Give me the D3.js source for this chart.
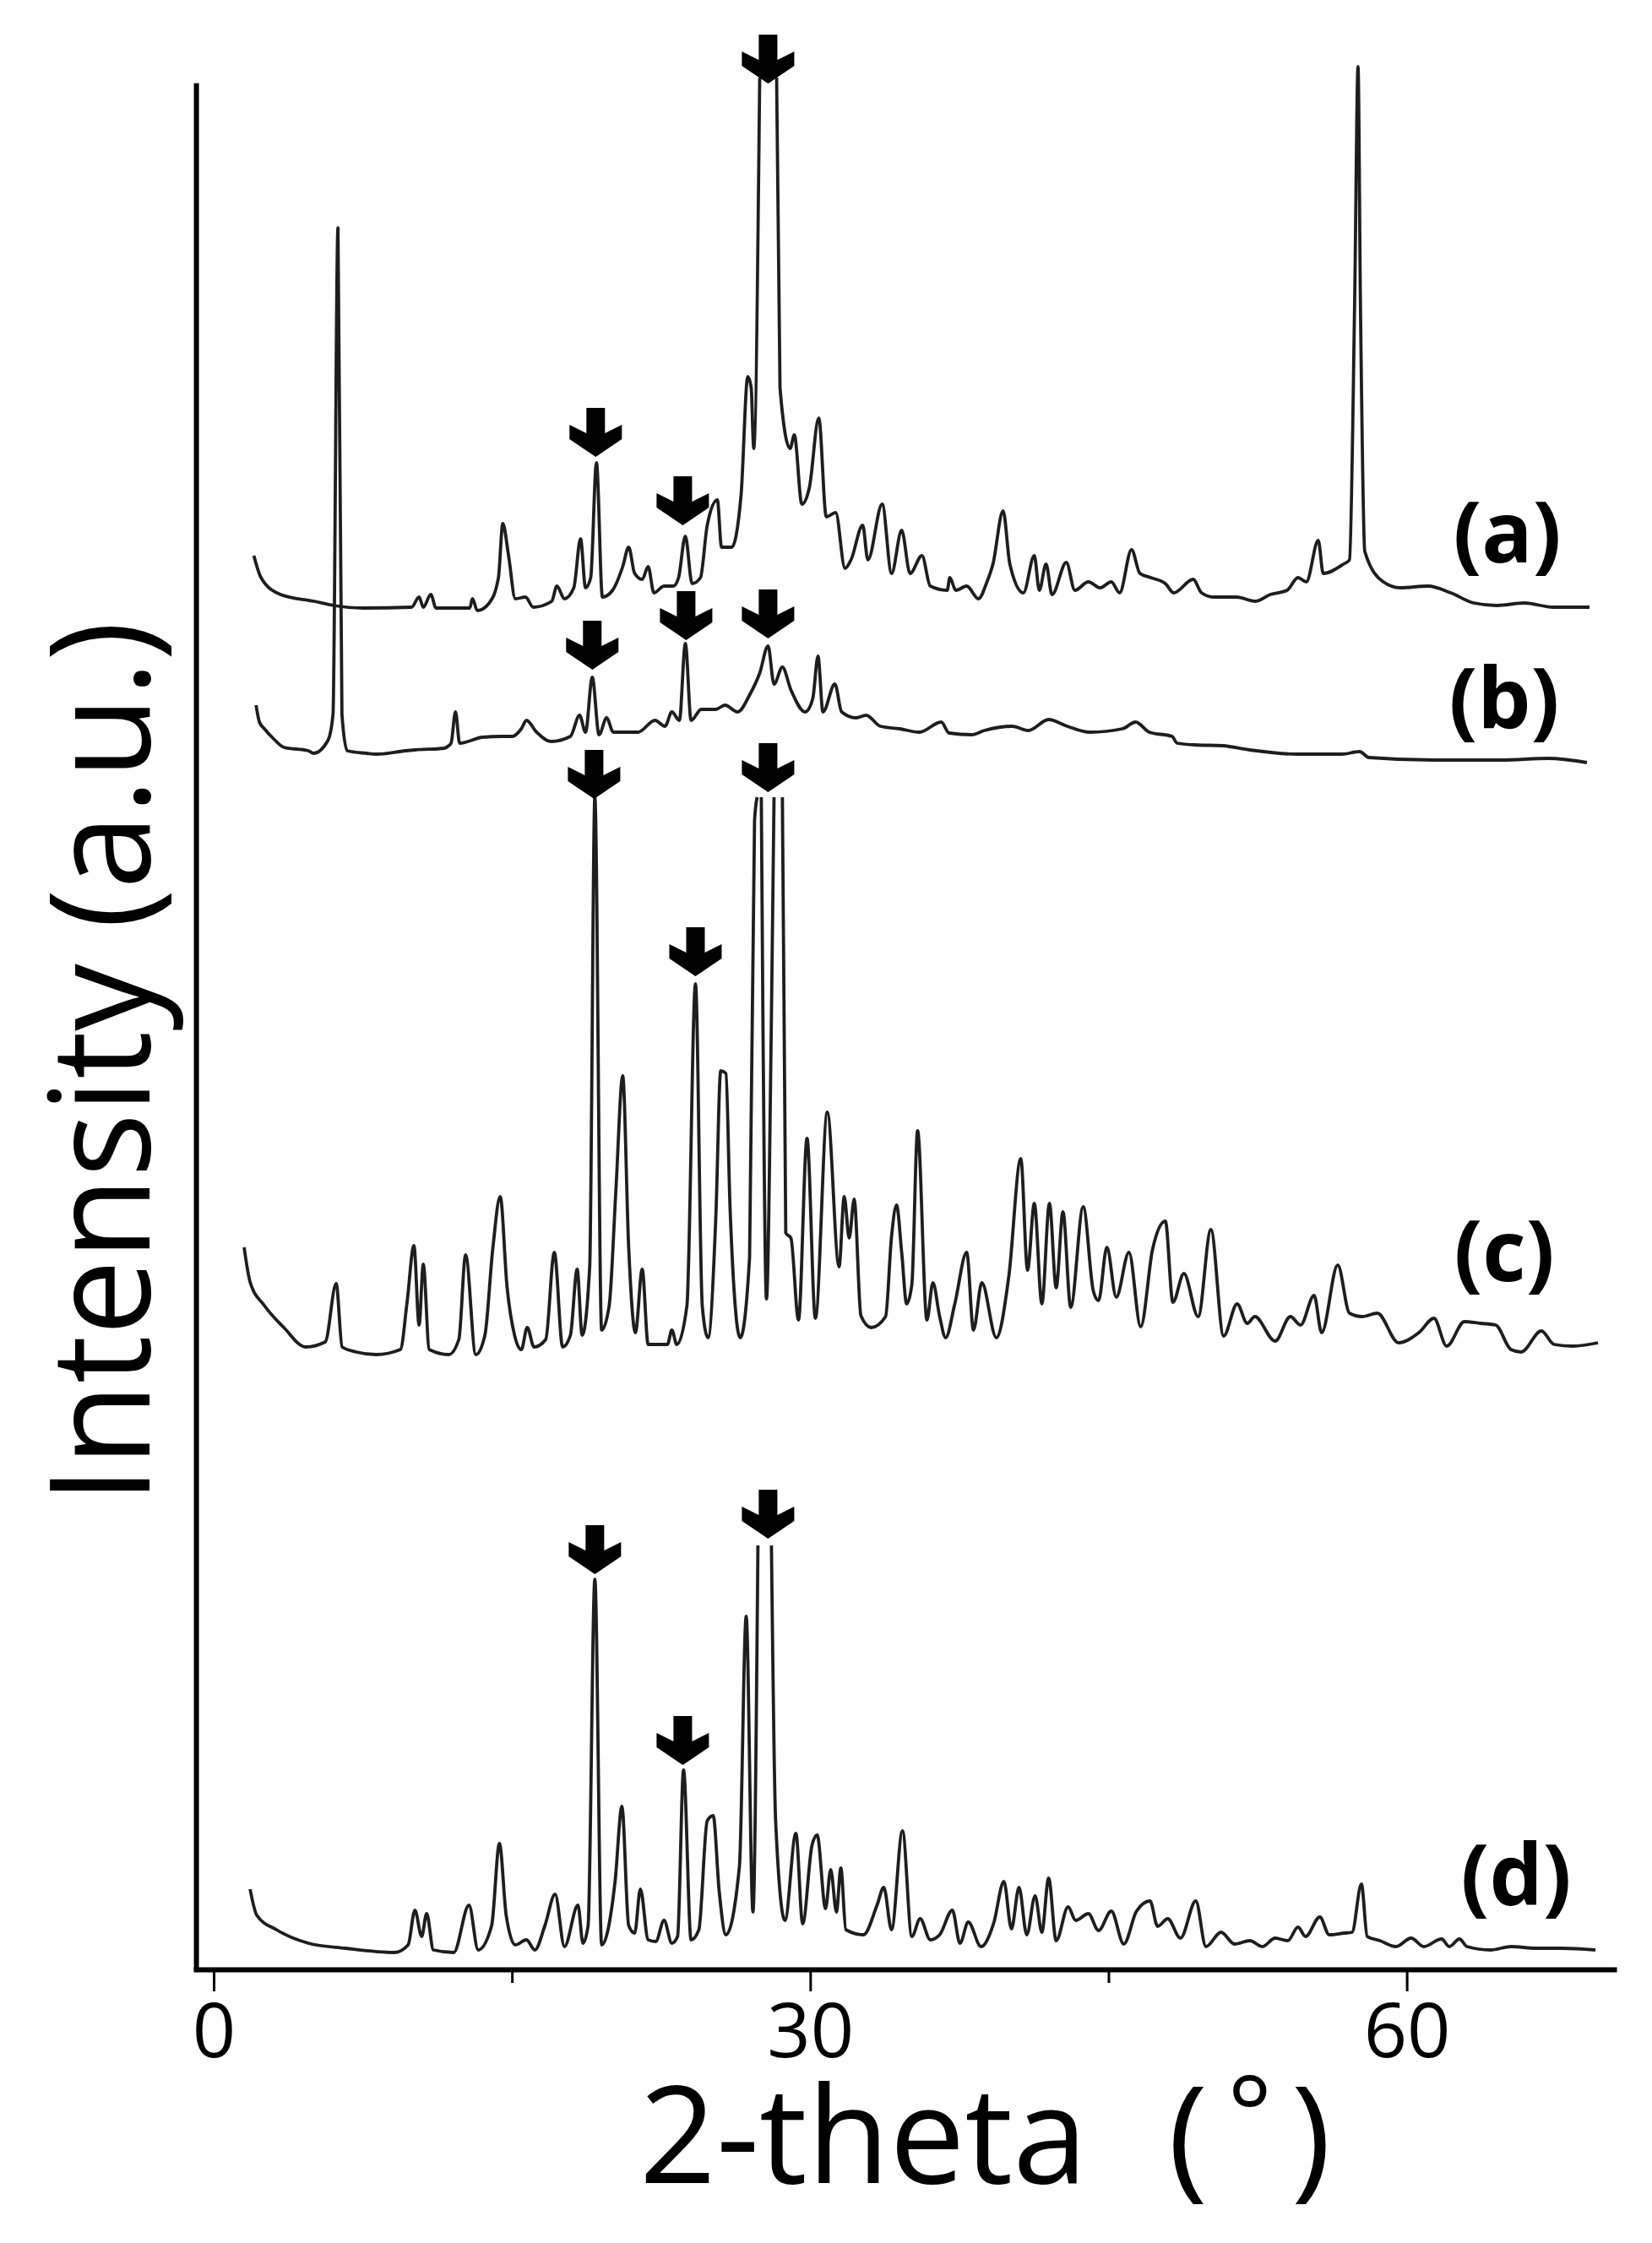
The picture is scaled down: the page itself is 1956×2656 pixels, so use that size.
<!DOCTYPE html>
<html>
<head>
<meta charset="utf-8">
<script src="https://cdn.jsdelivr.net/npm/d3@7"></script>
<style>
  body { margin: 0; background: #fff; }
  svg { display: block; }
</style>
</head>
<body>
<div id="chart"></div>
<script>
// x ticks of the 2-theta axis
const xTicks = [0, 15, 30, 45, 60];
const xLabelled = [0, 30, 60];

// stacked XRD patterns, [2-theta (deg), intensity (a.u.)]; null = peak cut off at the top
const traceA = [[2.02,1674],[2.38,1648],[3.36,1628],[5.06,1620],[6.04,1615],[7.52,1612],[9.95,1613],[10.33,1625],[10.54,1613],[10.92,1628],[11.18,1612],[12.88,1612],[13.01,1623],[13.26,1609],[13.86,1618],[14.32,1648],[14.54,1712],[14.83,1674],[15.17,1623],[15.68,1625],[16.07,1613],[17.00,1620],[17.26,1638],[17.64,1623],[18.11,1636],[18.45,1694],[18.70,1636],[18.96,1648],[19.25,1784],[19.55,1625],[20.06,1633],[20.57,1661],[20.87,1684],[21.17,1653],[21.55,1646],[21.85,1661],[22.14,1630],[22.65,1638],[23.12,1638],[23.38,1648],[23.72,1697],[24.06,1641],[24.48,1648],[24.82,1710],[25.33,1740],[25.54,1684],[26.05,1684],[26.52,1745],[26.86,1886],[27.03,1873],[27.16,1801],[27.46,2240],[27.9,null],[28.31,2240],[28.48,1873],[28.99,1801],[29.20,1817],[29.58,1735],[29.96,1755],[30.43,1837],[30.81,1720],[31.28,1725],[31.75,1659],[32.05,1669],[32.64,1710],[32.90,1669],[33.62,1735],[34.09,1653],[34.60,1704],[35.02,1653],[35.62,1674],[36.04,1638],[36.89,1633],[37.02,1648],[37.32,1633],[37.87,1638],[38.46,1623],[38.89,1643],[39.19,1664],[39.70,1727],[40.04,1664],[40.72,1630],[41.27,1674],[41.52,1633],[41.86,1664],[42.16,1628],[42.88,1666],[43.31,1633],[43.99,1643],[44.58,1636],[45.14,1643],[45.56,1630],[46.16,1681],[46.58,1653],[47.13,1648],[47.86,1641],[48.28,1630],[49.26,1646],[49.68,1630],[50.28,1625],[51.43,1625],[52.40,1620],[53.13,1628],[53.98,1633],[54.53,1648],[54.95,1643],[55.55,1692],[55.80,1653],[56.82,1664],[57.12,1669],[57.38,1975],[57.55,2253],[57.67,1975],[57.89,1679],[58.82,1643],[59.67,1636],[61.07,1638],[62.22,1630],[63.37,1618],[64.52,1615],[65.92,1618],[67.36,1613],[69.19,1613]];

const traceB = [[2.13,1497],[2.30,1477],[2.55,1469],[3.02,1457],[3.53,1447],[4.76,1443],[5.02,1440],[5.74,1455],[6.00,1486],[6.25,2062],[6.45,1486],[6.72,1443],[7.69,1440],[8.16,1439],[9.65,1443],[10.12,1444],[11.60,1446],[11.82,1449],[11.94,1452],[12.16,1489],[12.37,1452],[13.52,1459],[14.49,1460],[15.00,1460],[15.47,1469],[15.73,1479],[16.24,1465],[16.96,1454],[17.94,1460],[18.40,1485],[18.70,1465],[19.04,1530],[19.38,1462],[19.76,1482],[20.10,1465],[21.34,1465],[22.19,1479],[22.70,1472],[23.04,1489],[23.42,1479],[23.72,1570],[24.01,1479],[24.52,1492],[25.25,1492],[25.71,1497],[26.35,1489],[26.95,1509],[27.46,1535],[27.88,1567],[28.18,1522],[28.60,1542],[29.03,1515],[29.75,1489],[30.13,1505],[30.39,1555],[30.64,1489],[31.24,1522],[31.58,1489],[32.30,1482],[32.81,1485],[33.53,1472],[34.51,1469],[35.49,1465],[36.59,1477],[36.98,1464],[38.12,1462],[38.76,1467],[40.16,1472],[40.97,1467],[41.99,1480],[42.93,1472],[44.07,1465],[45.69,1469],[46.37,1477],[47.05,1465],[48.20,1460],[48.45,1452],[49.34,1450],[50.74,1449],[52.11,1444],[54.44,1439],[56.74,1439],[57.63,1442],[58.10,1435],[61.33,1432],[64.77,1432],[67.11,1434],[69.06,1429]];

const traceC = [[1.53,855],[1.83,814],[2.55,786],[3.53,760],[4.63,737],[5.61,743],[6.16,812],[6.46,737],[7.18,731],[8.16,728],[9.39,734],[9.73,791],[10.07,857],[10.33,763],[10.54,835],[10.84,734],[11.82,728],[12.33,746],[12.67,846],[13.18,728],[13.64,751],[14.03,852],[14.41,915],[14.75,809],[15.13,751],[15.47,734],[15.77,760],[16.11,737],[16.70,746],[17.13,849],[17.55,737],[17.94,751],[18.28,829],[18.53,751],[18.91,832],[19.17,1388],[19.51,757],[19.89,786],[20.23,924],[20.57,1058],[20.87,855],[21.21,754],[21.55,829],[21.85,740],[22.82,740],[23.04,757],[23.29,740],[23.80,786],[24.23,1167],[24.57,786],[24.86,748],[25.25,889],[25.50,1064],[25.76,1061],[25.97,901],[26.48,748],[26.95,843],[27.20,1360],[27.33,1388],[27.45,null],[27.54,1388],[27.62,1130],[27.80,794],[28.05,1130],[28.18,1388],[28.4,null],[28.60,1388],[28.77,872],[29.03,866],[29.41,769],[29.84,984],[30.26,771],[30.86,1015],[31.45,832],[31.71,915],[31.96,866],[32.21,912],[32.55,774],[33.07,760],[33.79,773],[34.09,868],[34.34,905],[34.60,849],[34.85,788],[35.11,811],[35.40,993],[35.87,769],[36.17,813],[36.51,773],[36.81,748],[37.27,788],[37.87,849],[38.21,757],[38.63,813],[39.36,748],[39.99,821],[40.59,960],[40.93,828],[41.27,907],[41.65,788],[42.03,907],[42.37,807],[42.71,897],[43.10,784],[43.73,903],[44.24,803],[44.50,792],[44.92,855],[45.39,796],[46.03,849],[46.62,761],[47.22,853],[47.86,886],[48.24,790],[48.79,824],[49.51,773],[50.15,876],[50.79,750],[51.47,788],[51.98,765],[52.36,773],[53.38,744],[54.15,773],[54.66,763],[55.34,798],[55.72,754],[56.53,834],[57.12,777],[57.76,773],[58.52,777],[59.59,742],[60.61,754],[61.37,771],[62.01,738],[62.90,767],[63.71,765],[64.47,763],[65.24,734],[65.75,731],[66.77,756],[67.41,740],[68.34,738],[69.62,742]];

const traceD = [[1.83,95],[2.17,64],[3.15,47],[4.76,31],[6.63,25],[9.10,20],[9.78,29],[10.12,70],[10.46,39],[10.71,66],[11.05,23],[12.07,20],[12.84,76],[13.30,23],[13.98,52],[14.37,149],[14.71,64],[15.17,29],[15.73,35],[16.15,23],[16.66,52],[17.17,89],[17.64,27],[18.32,76],[18.57,31],[18.83,52],[19.17,462],[19.51,29],[20.19,105],[20.53,193],[20.87,52],[21.17,43],[21.46,95],[21.85,35],[22.23,33],[22.65,58],[23.04,31],[23.33,39],[23.63,236],[24.01,35],[24.40,47],[24.82,176],[25.12,182],[25.42,93],[25.76,41],[26.44,122],[26.78,418],[27.12,68],[27.37,502],[27.7,null],[28.05,502],[28.26,176],[28.73,58],[29.28,161],[29.62,54],[30.09,147],[30.35,159],[30.77,72],[31.03,118],[31.32,68],[31.54,120],[31.79,47],[32.68,41],[33.36,76],[33.70,97],[34.09,47],[34.64,164],[35.11,39],[35.53,60],[36.04,35],[36.51,41],[37.15,70],[37.53,31],[37.95,56],[38.59,27],[39.23,55],[39.74,104],[40.12,48],[40.50,97],[40.89,41],[41.31,87],[41.65,44],[41.99,108],[42.37,34],[42.97,74],[43.35,58],[43.99,66],[44.50,46],[45.14,69],[45.77,30],[46.41,69],[47.09,81],[47.47,51],[47.98,60],[48.62,37],[49.39,81],[49.90,27],[50.66,44],[51.34,30],[52.11,34],[52.74,27],[53.38,37],[54.02,34],[54.53,50],[54.91,39],[55.63,62],[56.10,41],[56.87,43],[57.25,44],[57.72,101],[58.01,39],[58.65,34],[59.46,27],[60.22,37],[60.86,27],[61.75,36],[62.14,27],[62.65,36],[63.03,27],[64.22,23],[65.24,27],[66.51,25],[67.79,25],[69.49,23]];

// arrow tips marking the reflections, [2-theta, intensity]
const arrowsA = [[19.21,1791],[23.59,1710],[27.88,2233]];
const arrowsB = [[19.04,1539],[23.76,1574],[27.88,1576]];
const arrowsC = [[19.13,1386],[24.23,1176],[27.88,1394]];
const arrowsD = [[19.17,468],[23.59,242],[27.88,510]];

// sample labels and their anchor points
const labelNames = ["(a)", "(b)", "(c)", "(d)"];
const labelPos = [[65.05,1666],[64.9,1469],[64.9,815],[65.5,76]];

const traces = [traceA, traceB, traceC, traceD];
const arrows = [].concat(arrowsA, arrowsB, arrowsC, arrowsD);

const W = 1956, H = 2656;
const svg = d3.select('#chart').append('svg')
  .attr('width', W)
  .attr('height', H);

const x = d3.scaleLinear().domain([-1.02, 70.55]).range([229, 1914]);
const y = d3.scaleLinear().domain([0, 2234]).range([2332, 98]);

const line = d3.line()
  .defined(d => d[1] !== null)
  .curve(d3.curveMonotoneX)
  .x(d => x(d[0]))
  .y(d => y(d[1]));

// patterns
svg.append('g').attr('class', 'traces')
  .selectAll('path')
  .data(traces)
  .join('path')
    .attr('d', line)
    .attr('fill', 'none')
    .attr('stroke', '#1e1e1e')
    .attr('stroke-width', 3.8)
    .attr('stroke-linejoin', 'round');

// block arrows, drawn from the tip
const arrowShape = "M-11,-58L11,-58L11,-28L31,-38L31,-21L0,0L-31,-21L-31,-38L-11,-28Z";
svg.append('g').attr('class', 'arrows')
  .selectAll('path')
  .data(arrows)
  .join('path')
    .attr('d', arrowShape)
    .attr('transform', d => `translate(${x(d[0])},${y(d[1])})`)
    .attr('fill', '#000');

// x axis
const xAxis = svg.append('g')
  .attr('transform', `translate(0,${y(0)})`)
  .call(d3.axisBottom(x)
    .tickValues(xTicks)
    .tickFormat(d => xLabelled.includes(d) ? d : '')
    .tickSize(26)
    .tickSizeOuter(0));
xAxis.select('.domain').attr('stroke', '#000').attr('stroke-width', 6);
xAxis.selectAll('.tick line')
  .attr('stroke', '#000')
  .attr('stroke-width', 3)
  .attr('y2', d => xLabelled.includes(d) ? 26 : 16);
xAxis.selectAll('.tick text')
  .attr('y', 104)
  .attr('dy', 0)
  .attr('fill', '#000')
  .style('font-family', '"Open Sans", sans-serif')
  .style('font-size', '90px');

// y axis: bare line
const yAxis = svg.append('g')
  .attr('transform', `translate(${x(-0.89)},0)`)
  .call(d3.axisLeft(y).tickValues([]).tickSizeOuter(0));
yAxis.select('.domain').attr('stroke', '#000').attr('stroke-width', 6);

// sample labels
svg.append('g').attr('class', 'labels')
  .selectAll('text')
  .data(labelNames)
  .join('text')
    .attr('x', (d, i) => x(labelPos[i][0]))
    .attr('y', (d, i) => y(labelPos[i][1]))
    .attr('text-anchor', 'middle')
    .style('font-family', '"Open Sans", sans-serif')
    .style('font-weight', 700)
    .style('font-size', '100px')
    .text(d => d);

// axis titles
svg.append('text')
  .attr('transform', 'translate(177,1258) rotate(-90)')
  .attr('text-anchor', 'middle')
  .attr('textLength', 1045)
  .attr('lengthAdjust', 'spacingAndGlyphs')
  .style('font-family', '"Open Sans", sans-serif')
  .style('font-size', '165px')
  .text('Intensity (a.u.)');

const xt = svg.append('text')
  .attr('y', 2585)
  .style('font-family', '"Open Sans", sans-serif')
  .style('font-size', '159px');
xt.append('tspan').attr('x', 757).text('2-theta ');
xt.append('tspan').attr('x', 1383).text('(');
xt.append('tspan').attr('x', 1453).attr('y', 2547).style('font-size', '125px').text('°');
xt.append('tspan').attr('x', 1529).attr('y', 2585).text(')');
</script>
</body>
</html>
